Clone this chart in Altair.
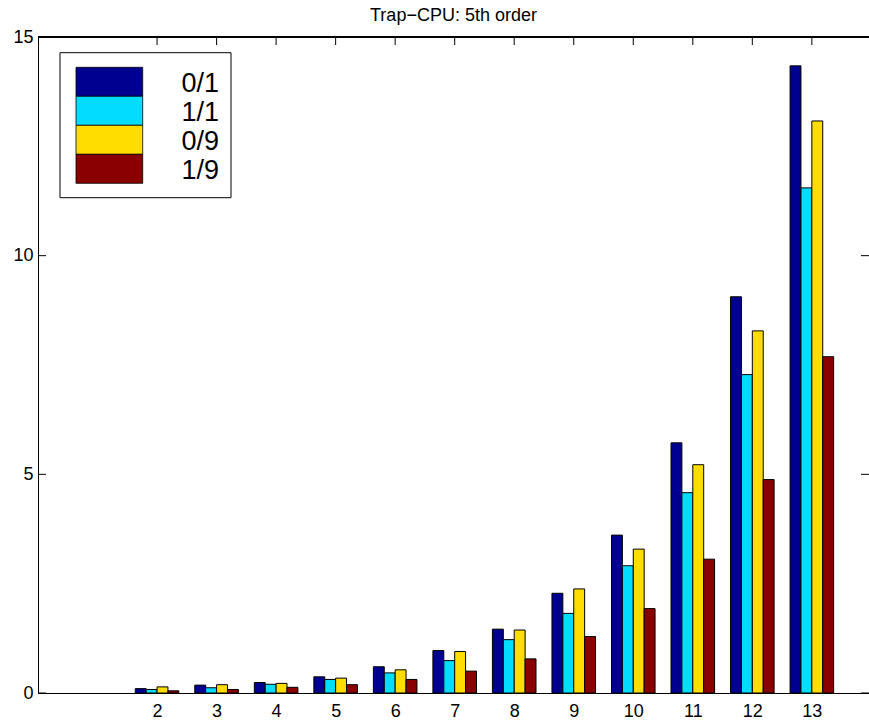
import altair as alt
import pandas as pd

# Problem sizes on the x axis and the four configurations compared
sizes = [2, 3, 4, 5, 6, 7, 8, 9, 10, 11, 12, 13]
series_names = ["0/1", "1/1", "0/9", "1/9"]
series_colors = ["#000090", "#00DDFF", "#FFDD00", "#8A0000"]

# CPU time per configuration
cpu_01 = [0.10, 0.18, 0.24, 0.37, 0.60, 0.97, 1.46, 2.28, 3.61, 5.72, 9.06, 14.34]
cpu_11 = [0.08, 0.12, 0.20, 0.31, 0.46, 0.74, 1.22, 1.82, 2.91, 4.58, 7.28, 11.55]
cpu_09 = [0.14, 0.19, 0.22, 0.34, 0.53, 0.95, 1.44, 2.38, 3.29, 5.22, 8.28, 13.08]
cpu_19 = [0.05, 0.08, 0.13, 0.19, 0.31, 0.50, 0.78, 1.29, 1.93, 3.06, 4.88, 7.69]

y_ticks = [0, 5, 10, 15]

W, H = 831, 656
BAR_W = 0.183  # width of one bar in x units; the four bars of a group touch
FONT = "Liberation Sans"
TICK_FS = 18

rows = []
for idx, (name, vals) in enumerate(zip(series_names, [cpu_01, cpu_11, cpu_09, cpu_19])):
    for s, v in zip(sizes, vals):
        rows.append({"size": s, "series": name, "order": idx, "value": v})
df = pd.DataFrame(rows)

x_scale = alt.Scale(domain=[0, 13.96], nice=False, zero=False)
y_scale = alt.Scale(domain=[0, 15], nice=False, zero=True)
color_scale = alt.Scale(domain=series_names, range=series_colors)

bars = (
    alt.Chart(df)
    .transform_calculate(
        left=f"datum.size + (datum.order - 2) * {BAR_W}",
        right=f"datum.size + (datum.order - 1) * {BAR_W}",
        base="0",
    )
    .mark_rect(stroke="black", strokeWidth=1)
    .encode(
        x=alt.X(
            "left:Q",
            scale=x_scale,
            axis=alt.Axis(
                values=sizes, format="d", title=None, ticks=False, labelPadding=9,
                domain=True, domainColor="black", labelFlush=False, grid=False,
                labelFont=FONT, labelFontSize=TICK_FS, labelColor="black",
            ),
        ),
        x2="right:Q",
        y=alt.Y(
            "value:Q",
            scale=y_scale,
            axis=alt.Axis(
                values=y_ticks, format="d", title=None, ticks=False, labelPadding=5,
                domain=True, domainColor="black", labelFlush=False, grid=False,
                labelFont=FONT, labelFontSize=TICK_FS, labelColor="black",
            ),
        ),
        y2="base:Q",
        color=alt.Color("series:N", scale=color_scale, legend=None),
    )
)

# Inward tick marks along the top and both sides
xt = pd.DataFrame({"t": sizes})
yt = pd.DataFrame({"t": y_ticks})
top_ticks = alt.Chart(xt).mark_rule(color="black", strokeWidth=1).encode(
    x=alt.X("t:Q", scale=x_scale), y=alt.value(0), y2=alt.value(8)
)
left_ticks = alt.Chart(yt).mark_rule(color="black", strokeWidth=1).encode(
    y=alt.Y("t:Q", scale=y_scale), x=alt.value(0), x2=alt.value(8)
)
right_ticks = alt.Chart(yt).mark_rule(color="black", strokeWidth=1).encode(
    y=alt.Y("t:Q", scale=y_scale), x=alt.value(W - 8), x2=alt.value(W)
)
top_border = alt.Chart(xt).mark_rule(color="black", strokeWidth=1).encode(
    x=alt.value(0), x2=alt.value(W), y=alt.value(0)
)

main = alt.layer(bars, top_ticks, left_ticks, right_ticks, top_border)

# Legend box in the upper-left corner
leg = pd.DataFrame({"series": series_names})
leg_y = alt.Scale(type="band", domain=series_names, range=[30.3, 146.3],
                  paddingInner=0, paddingOuter=0)
leg_box = alt.Chart(leg.head(1)).mark_rect(
    fill="white", stroke="black", strokeWidth=1
).encode(x=alt.value(22), x2=alt.value(193), y=alt.value(15.7), y2=alt.value(160.7))
leg_swatch = alt.Chart(leg).mark_rect(stroke="black", strokeWidth=0.8).encode(
    y=alt.Y("series:N", scale=leg_y, axis=None),
    x=alt.value(38), x2=alt.value(104.7),
    color=alt.Color("series:N", scale=color_scale, legend=None),
)
leg_text = alt.Chart(leg).mark_text(
    align="right", baseline="alphabetic", dy=10, font=FONT, fontSize=27, color="black"
).encode(
    y=alt.Y("series:N", scale=leg_y, axis=None),
    x=alt.value(181),
    text="series:N",
)
legend = alt.layer(leg_box, leg_swatch, leg_text)

chart = (
    alt.layer(main, legend)
    .resolve_scale(y="independent", color="independent")
    .properties(
        width=W,
        height=H,
        padding={"left": 38, "top": 37, "right": 0, "bottom": 26},
        autosize=alt.AutoSizeParams(type="none"),
        title=alt.TitleParams(
            "Trap\u2212CPU: 5th order", font=FONT, fontSize=18, fontWeight="normal",
            color="black", anchor="middle", frame="group", offset=3,
        ),
    )
    .configure_view(stroke=None)
    .configure(background="white")
)

chart.save("out.html", embed_options={"renderer": "svg", "actions": False})
